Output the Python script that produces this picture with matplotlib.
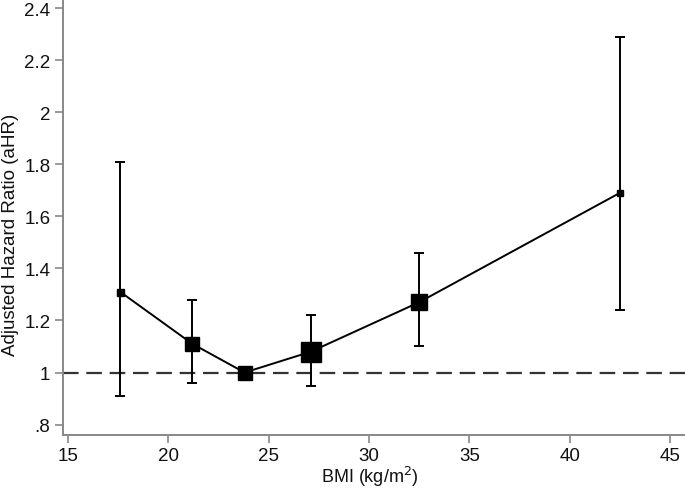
import matplotlib
matplotlib.use("Agg")
import matplotlib.pyplot as plt

plt.rcParams['font.family'] = ['Liberation Sans', 'DejaVu Sans']

# BMI category midpoints and adjusted hazard ratios
bmi = [17.6, 21.2, 23.8, 27.1, 32.5, 42.5]
ahr = [1.31, 1.11, 1.00, 1.08, 1.27, 1.69]
ci_low = [0.91, 0.96, 1.00, 0.95, 1.10, 1.24]
ci_high = [1.81, 1.28, 1.00, 1.22, 1.46, 2.29]
has_ci = [True, True, False, True, True, True]
marker_px = [7, 14, 14, 20, 16, 6]  # marker size, roughly by weight

yticks = [0.8, 1.0, 1.2, 1.4, 1.6, 1.8, 2.0, 2.2, 2.4]
ytick_labels = [".8", "1", "1.2", "1.4", "1.6", "1.8", "2", "2.2", "2.4"]
xticks = [15, 20, 25, 30, 35, 40, 45]

fig = plt.figure(figsize=(6.85, 4.89), dpi=100)
ax = fig.add_axes([63/685, 1 - 436/489, 1 - 63/685, 436/489])

ax.axhline(1.0, color='#333333', lw=1.6, ls=(0, (7, 3.5)), zorder=1)

ax.plot(bmi, ahr, color='black', lw=1.4, zorder=2)
for x, y, lo, hi, ci, ms in zip(bmi, ahr, ci_low, ci_high, has_ci, marker_px):
    if ci:
        ax.errorbar(x, y, yerr=[[y - lo], [hi - y]], fmt='none', ecolor='black',
                    elinewidth=1.4, capsize=3.6, capthick=1.4, zorder=2)
    ax.plot(x, y, marker='s', ms=ms * 0.72, color='black', zorder=3)

ax.set_xlim(14.75, 45.75)
ax.set_ylim(0.760, 2.435)
ax.set_xticks(xticks)
ax.set_yticks(yticks)
ax.set_yticklabels(ytick_labels)

for s in ['top', 'right']:
    ax.spines[s].set_visible(False)
for s in ['left', 'bottom']:
    ax.spines[s].set_color('#888888')
    ax.spines[s].set_linewidth(1.4)
ax.tick_params(direction='out', length=6, width=1.2, color='#888888',
               labelsize=13.5, labelcolor='#111111')
ax.tick_params(axis='x', pad=2.5)
ax.tick_params(axis='y', pad=3)

ax.set_xlabel("BMI (kg/m$^2$)", fontsize=13, color='#111111', va='baseline')
ax.xaxis.set_label_coords(0.493, -(483 - 436) / 436)
ax.set_ylabel("Adjusted Hazard Ratio (aHR)", fontsize=13.5, color='#111111', va='center')
ax.yaxis.set_label_coords(-52/622, (436 - 235) / 436)

fig.savefig("out.png", dpi=100)
